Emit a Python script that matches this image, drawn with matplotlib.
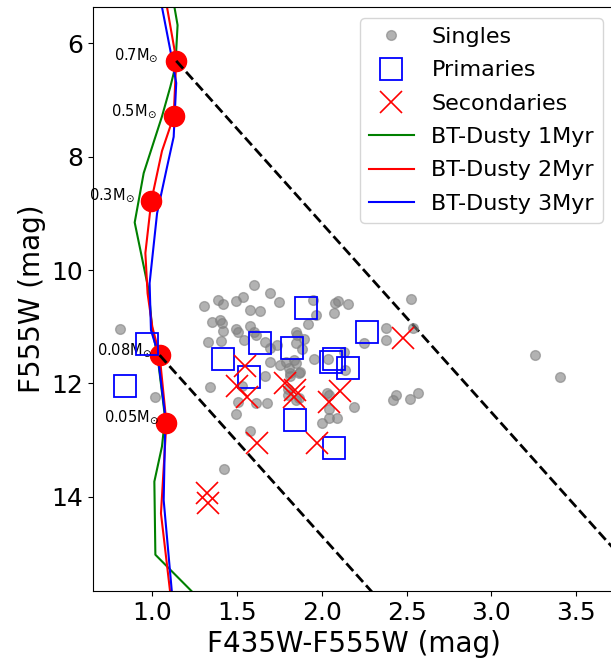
import matplotlib
matplotlib.use("Agg")
import matplotlib.pyplot as plt

# BT-Dusty isochrones (F435W-F555W, F555W)
iso1_col = [1.127, 1.149, 1.136, 1.106, 1.057, 0.949, 0.896, 0.978, 1.000, 1.030, 1.075, 1.057, 1.012, 1.018, 1.244]
iso1_mag = [5.30, 5.68, 6.41, 6.77, 7.29, 8.29, 9.16, 10.35, 11.06, 11.50, 12.60, 13.11, 13.73, 15.02, 15.70]

iso2_col = [1.083, 1.130, 1.141, 1.126, 1.057, 0.994, 0.959, 0.972, 1.000, 1.043, 1.083, 1.051, 1.106]
iso2_mag = [5.30, 6.10, 6.31, 7.29, 7.90, 8.78, 9.70, 10.41, 11.00, 11.50, 12.69, 14.29, 15.70]

iso3_col = [1.053, 1.106, 1.141, 1.126, 1.087, 1.028, 0.984, 0.992, 1.028, 1.077, 1.067, 1.116]
iso3_mag = [5.30, 6.12, 6.70, 7.65, 8.18, 9.00, 10.23, 11.06, 11.41, 12.59, 14.06, 15.70]

# mass points on the 2 Myr track
mass_lab = ['0.7', '0.5', '0.3', '0.08', '0.05']
mass_col = [1.141, 1.126, 0.994, 1.043, 1.083]
mass_mag = [6.31, 7.29, 8.78, 11.50, 12.69]

# reddening vector (dcolor, dmag)
red_vec = (3.0, 10.0)

singles_col = [0.811, 1.018, 1.302, 1.330, 1.340, 1.355, 1.601, 1.694, 1.749, 1.385,
               1.417, 1.495, 1.535, 1.578, 1.633, 1.399, 1.410, 1.417, 1.495, 1.505,
               1.578, 1.613, 1.600, 1.405, 1.538, 1.666, 1.737, 1.692, 1.696, 1.751,
               1.808, 1.666, 1.947, 2.093, 2.152, 2.080, 1.967, 2.071, 1.916, 1.849,
               1.855, 2.380, 2.380, 2.250, 1.849, 1.896, 1.883, 1.837, 1.845, 1.955,
               2.034, 2.132, 2.138, 1.873, 1.814, 1.863, 1.810, 1.503, 1.495, 1.613,
               1.676, 1.798, 1.868, 1.850, 2.030, 2.040, 2.187, 2.000, 2.045, 2.089,
               2.040, 1.578, 1.420, 1.529, 2.525, 2.537, 3.258, 3.406, 2.439, 2.423,
               2.521, 2.567, 1.800, 1.790]
singles_mag = [11.04, 12.24, 10.63, 11.27, 12.06, 10.91, 10.27, 10.40, 10.57, 10.53,
               10.60, 10.54, 10.47, 10.70, 10.72, 10.88, 10.94, 11.07, 11.04, 11.09,
               10.99, 11.14, 11.10, 11.25, 11.23, 11.26, 11.33, 11.38, 11.62, 11.68,
               11.72, 11.87, 10.52, 10.55, 10.60, 10.58, 10.79, 10.76, 10.95, 11.10,
               11.14, 11.03, 11.24, 11.28, 11.29, 11.22, 11.40, 11.59, 11.63, 11.57,
               11.57, 11.44, 11.76, 11.79, 11.82, 11.82, 11.87, 12.32, 12.54, 12.35,
               12.35, 12.20, 12.26, 12.30, 12.17, 12.21, 12.41, 12.69, 12.60, 12.60,
               12.45, 12.84, 13.51, 12.04, 10.51, 11.03, 11.50, 11.88, 12.20, 12.30,
               12.28, 12.16, 12.10, 11.62]

prim_col = [0.841, 0.969, 1.908, 2.266, 1.633, 1.824, 1.417, 1.568, 2.069, 2.055, 2.152, 1.843, 2.069]
prim_mag = [12.04, 11.30, 10.66, 11.10, 11.29, 11.38, 11.57, 11.88, 11.56, 11.62, 11.73, 12.64, 13.13]

sec_col = [1.548, 1.499, 1.558, 1.784, 1.843, 1.833, 2.108, 2.040, 1.617, 1.971, 2.482, 1.322, 1.327]
sec_mag = [11.70, 12.04, 12.24, 12.00, 12.11, 12.23, 12.14, 12.32, 13.05, 13.05, 11.20, 13.94, 14.10]

W, H = 611, 663
fig = plt.figure(figsize=(W / 100, H / 100), dpi=100)
ax = fig.add_axes([93 / W, 1 - 591 / H, (614 - 93) / W, (591 - 7) / H])

ax.plot(iso1_col, iso1_mag, color='g', lw=1.5, label='BT-Dusty 1Myr', zorder=2)
ax.plot(iso2_col, iso2_mag, color='r', lw=1.5, label='BT-Dusty 2Myr', zorder=2)
ax.plot(iso3_col, iso3_mag, color='b', lw=1.5, label='BT-Dusty 3Myr', zorder=2)

ax.plot(mass_col, mass_mag, 'o', color='r', ms=14.5, zorder=3)
for lab, c, m in zip(mass_lab, mass_col, mass_mag):
    ax.annotate(lab + r'M$_{\odot}$', (c, m), xytext=(-45, 4), textcoords='offset points',
                ha='left', va='center', fontsize=10.5)

# reddening lines from 0.7 and 0.08 Msun
for i in [0, 3]:
    ax.plot([mass_col[i], mass_col[i] + red_vec[0]], [mass_mag[i], mass_mag[i] + red_vec[1]],
            'k--', lw=2, zorder=4)

ax.plot(singles_col, singles_mag, 'o', color='gray', alpha=0.6, ms=7, label='Singles', zorder=5)
ax.plot(prim_col, prim_mag, 's', mfc='none', mec='b', mew=1.3, ms=16.5, label='Primaries', zorder=6)
ax.plot(sec_col, sec_mag, 'x', color='r', mew=1.2, ms=16, label='Secondaries', zorder=7)

ax.set_xlim(0.65, 3.724)
ax.set_ylim(15.66, 5.36)
ax.set_xticks([1.0, 1.5, 2.0, 2.5, 3.0, 3.5])
ax.set_yticks([6, 8, 10, 12, 14])
ax.tick_params(labelsize=18)
ax.set_xlabel('F435W-F555W (mag)', fontsize=20)
ax.set_ylabel('F555W (mag)', fontsize=20)

h, l = ax.get_legend_handles_labels()
order = [3, 4, 5, 0, 1, 2]
ax.legend([h[i] for i in order], [l[i] for i in order], loc='upper right', fontsize=16,
          labelspacing=0.6)

fig.savefig('out.png', dpi=100)
